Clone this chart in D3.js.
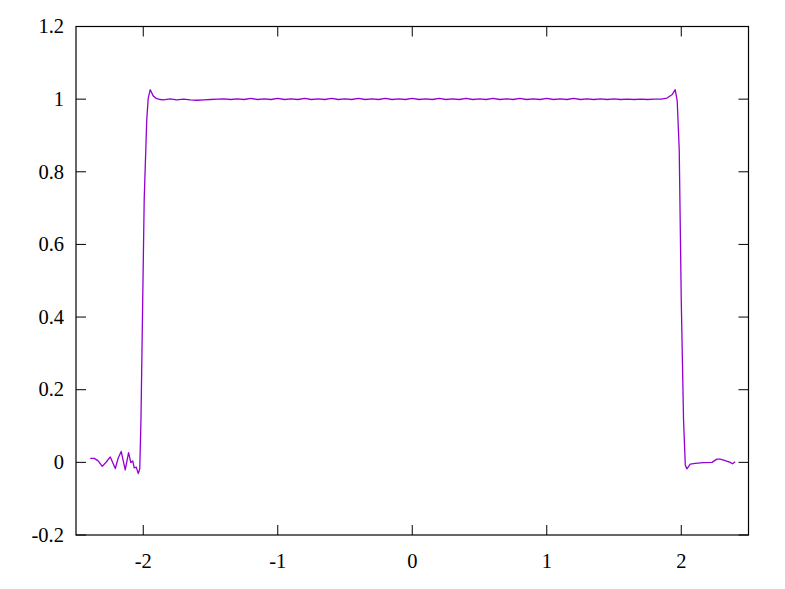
<!DOCTYPE html>
<html>
<head>
<meta charset="utf-8">
<script src="https://cdn.jsdelivr.net/npm/d3@7"></script>
<style>
    body { margin: 0; background: #fff; }
    .border { fill: none; stroke: #000; stroke-width: 1.2; }
    .tick { stroke: #000; stroke-width: 1; }
    .curve { fill: none; stroke: #9400d3; stroke-width: 1.3; stroke-linejoin: round; }
</style>
</head>
<body>
<script>
(function(){

    //data: left edge noise + rise
    var leftX = [-2.394, -2.364, -2.335, -2.305, -2.275, -2.245, -2.208, -2.186, -2.164, -2.134,
                 -2.109, -2.093, -2.078, -2.067, -2.052, -2.037, -2.026, -2.017, -2.004, -1.993,
                 -1.974, -1.963, -1.948, -1.926, -1.903, -1.874];
    var leftY = [0.011, 0.011, 0.004, -0.011, 0.001, 0.015, -0.017, 0.012, 0.030, -0.021,
                 0.027, 0.000, 0.004, -0.015, -0.013, -0.031, -0.018, 0.117, 0.447, 0.722,
                 0.943, 1.003, 1.026, 1.009, 1.002, 0.999];

    //flat top with small ripples
    var topX = [-1.85, -1.80, -1.75, -1.70, -1.65, -1.60, -1.55, -1.50, -1.45, -1.40,
                -1.35, -1.30, -1.25, -1.20, -1.15, -1.10, -1.05, -1.00, -0.95, -0.90,
                -0.85, -0.80, -0.75, -0.70, -0.65, -0.60, -0.55, -0.50, -0.45, -0.40,
                -0.35, -0.30, -0.25, -0.20, -0.15, -0.10, -0.05, 0.00, 0.05, 0.10,
                0.15, 0.20, 0.25, 0.30, 0.35, 0.40, 0.45, 0.50, 0.55, 0.60,
                0.65, 0.70, 0.75, 0.80, 0.85, 0.90, 0.95, 1.00, 1.05, 1.10,
                1.15, 1.20, 1.25, 1.30, 1.35, 1.40, 1.45, 1.50, 1.55, 1.60,
                1.65, 1.70, 1.75, 1.80, 1.85];
    var topY = [0.998, 1.001, 0.998, 1.000, 0.998, 0.997, 0.998, 0.999, 1.000, 1.001,
                0.999, 1.001, 0.999, 1.002, 0.999, 1.001, 0.999, 1.002, 0.999, 1.001,
                0.999, 1.002, 0.999, 1.001, 0.999, 1.002, 0.999, 1.001, 0.999, 1.002,
                0.999, 1.001, 0.999, 1.002, 0.999, 1.001, 0.999, 1.002, 0.999, 1.001,
                0.999, 1.002, 0.999, 1.001, 0.999, 1.002, 0.999, 1.001, 0.999, 1.002,
                0.999, 1.001, 0.999, 1.002, 0.999, 1.001, 0.999, 1.002, 0.999, 1.001,
                0.999, 1.002, 0.999, 1.001, 0.999, 1.001, 0.999, 1.001, 0.999, 1.000,
                0.999, 1.000, 0.999, 1.000, 1.000];

    //right edge fall + noise
    var rightX = [1.894, 1.931, 1.955, 1.970, 1.985, 2.000, 2.017, 2.030, 2.042, 2.067,
                  2.104, 2.164, 2.228, 2.265, 2.290, 2.327, 2.364, 2.381, 2.401];
    var rightY = [1.003, 1.012, 1.026, 0.995, 0.860, 0.447, 0.117, -0.007, -0.018, -0.005,
                  -0.003, -0.001, 0.000, 0.009, 0.009, 0.005, 0.000, -0.004, 0.002];

    var xTicks = ["-2", "-1", "0", "1", "2"];
    var yTicks = ["-0.2", "0", "0.2", "0.4", "0.6", "0.8", "1", "1.2"];

    var labelFont = "'Liberation Serif', 'Times New Roman', Times, 'DejaVu Serif', serif";

    window.onload = drawChart();

function drawChart(){

    var width = 785,
        height = 589;

    //plot frame
    var left = 76, right = 748.5, top = 26.5, bottom = 535;
    var tickLen = 10;

    var svg = d3.select("body")
        .append("svg")
        .attr("width", width)
        .attr("height", height);

    var x = d3.scaleLinear()
        .domain([-2.5, 2.5])
        .range([left, right]);

    var y = d3.scaleLinear()
        .domain([-0.2, 1.2])
        .range([bottom, top]);

    //join the three pieces into one series
    var xs = leftX.concat(topX, rightX),
        ys = leftY.concat(topY, rightY);
    var points = xs.map(function(d, i){ return [d, ys[i]]; });

    //ticks on all four sides, pointing in
    yTicks.forEach(function(t){
        var v = +t;
        svg.append("line").attr("class", "tick")
            .attr("x1", left).attr("x2", left + tickLen)
            .attr("y1", y(v)).attr("y2", y(v));
        svg.append("line").attr("class", "tick")
            .attr("x1", right).attr("x2", right - tickLen)
            .attr("y1", y(v)).attr("y2", y(v));
        svg.append("text")
            .attr("font-family", labelFont)
            .attr("font-size", 20.5)
            .attr("x", left - 12)
            .attr("y", y(v))
            .attr("dy", "0.33em")
            .attr("text-anchor", "end")
            .text(t);
    });

    xTicks.forEach(function(t){
        var v = +t;
        svg.append("line").attr("class", "tick")
            .attr("x1", x(v)).attr("x2", x(v))
            .attr("y1", bottom).attr("y2", bottom - tickLen);
        svg.append("line").attr("class", "tick")
            .attr("x1", x(v)).attr("x2", x(v))
            .attr("y1", top).attr("y2", top + tickLen);
        svg.append("text")
            .attr("font-family", labelFont)
            .attr("font-size", 20.5)
            .attr("x", x(v))
            .attr("y", bottom + 33)
            .attr("text-anchor", "middle")
            .text(t);
    });

    //the curve
    var line = d3.line()
        .x(function(d){ return x(d[0]); })
        .y(function(d){ return y(d[1]); });

    svg.append("path")
        .datum(points)
        .attr("class", "curve")
        .attr("d", line);

    //border box
    svg.append("rect")
        .attr("class", "border")
        .attr("x", left)
        .attr("y", top)
        .attr("width", right - left)
        .attr("height", bottom - top);
};

})();
</script>
</body>
</html>
